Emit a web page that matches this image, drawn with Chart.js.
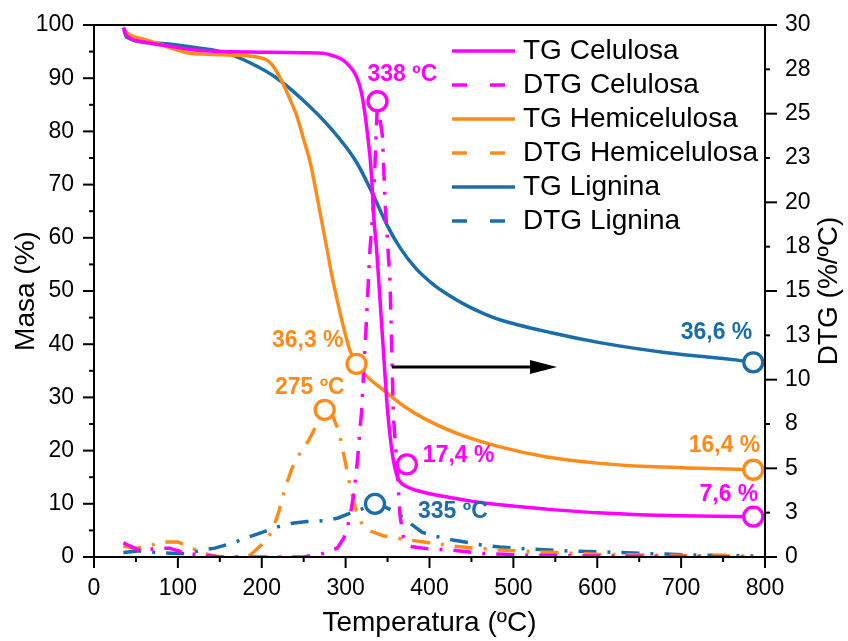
<!DOCTYPE html>
<html>
<head>
<meta charset="utf-8">
<script src="https://cdn.jsdelivr.net/npm/chart.js@4.4.1/dist/chart.umd.min.js"></script>
<style>
  html, body { margin: 0; padding: 0; background: #ffffff; }
  #wrap { width: 848px; height: 641px; }
</style>
</head>
<body>
<div id="wrap"><canvas id="tga" width="848" height="641"></canvas></div>
<script>
// ---- Mass loss (TG, left axis, %) ----
const tempTgCel = [35, 38, 43, 60, 94, 120, 154, 200, 250, 273, 289, 297, 305, 313, 319, 325, 331, 333, 337, 341, 345, 350, 355, 358, 362, 368, 376, 385, 400, 424, 450, 484, 540, 600, 660, 720, 786];
const tgCel     = [99.5, 98.3, 97.5, 96.8, 95.9, 95.3, 95.0, 94.9, 94.8, 94.7, 94.0, 93.4, 92.2, 90.3, 87.2, 80.9, 71.5, 65.2, 57.7, 48.3, 38.9, 27.5, 20.1, 17.3, 14.9, 13.7, 13.0, 12.5, 11.9, 11.2, 10.5, 9.8, 9.0, 8.3, 7.9, 7.7, 7.6];

const tempTgHem = [35, 38, 43, 60, 75, 95, 114, 135, 154, 175, 194, 205, 212, 218, 225, 233, 242, 250, 258, 269, 278, 284, 290, 297, 305, 313, 325, 345, 370, 404, 440, 484, 540, 603, 660, 722, 786];
const tgHem     = [99.5, 98.8, 98.1, 97.3, 96.6, 95.5, 94.7, 94.5, 94.4, 94.3, 94.0, 93.5, 92.6, 91.2, 89.1, 86.3, 82.8, 78.5, 74.0, 65.2, 57.7, 52.6, 48.3, 43.5, 38.9, 36.3, 34.0, 31.4, 28.3, 25.2, 22.8, 20.7, 18.8, 17.6, 17.0, 16.7, 16.4];

const tempTgLig = [35, 39, 75, 114, 154, 186, 218, 249, 281, 313, 333, 350, 365, 384, 404, 424, 445, 464, 484, 544, 603, 683, 762, 786];
const tgLig     = [99.5, 97.7, 96.6, 95.9, 94.9, 92.9, 90.0, 85.9, 80.8, 74.2, 68.0, 62.2, 58.1, 54.2, 51.3, 49.1, 47.2, 45.8, 44.6, 42.2, 40.3, 38.4, 37.1, 36.6];

// ---- Derivative (DTG, right axis, %/ºC) ----
const tempDtgCel = [35, 55, 75, 90, 110, 130, 150, 200, 250, 273, 290, 297, 301, 306, 310, 314, 319, 325, 329, 333, 338, 344, 347, 353, 355, 357, 361, 365, 369, 377, 400, 424, 464, 520, 600, 700, 786];
const dtgCel     = [0.8, 0.35, 0.5, 0.5, 0.2, 0.1, 0.0, 0.0, 0.0, 0.2, 0.5, 1.0, 1.4, 2.5, 3.6, 5.4, 8.2, 13.5, 17.3, 19.8, 25.7, 23.7, 20.0, 15.5, 11.7, 7.9, 5.3, 2.3, 1.1, 0.6, 0.45, 0.4, 0.2, 0.1, 0.05, 0.03, 0.0];

const tempDtgHem = [35, 50, 65, 80, 100, 115, 130, 150, 170, 186, 200, 212, 220, 228, 236, 245, 255, 265, 275, 285, 292, 299, 305, 312, 320, 330, 345, 370, 400, 430, 480, 550, 600, 700, 786];
const dtgHem     = [0.6, 0.5, 0.6, 0.85, 0.85, 0.55, 0.2, 0.0, 0.0, 0.1, 0.7, 1.4, 2.5, 3.9, 5.0, 5.8, 6.5, 7.4, 8.3, 7.9, 7.1, 5.5, 4.1, 2.7, 1.8, 1.45, 1.2, 1.0, 0.8, 0.6, 0.4, 0.25, 0.15, 0.08, 0.05];

const tempDtgLig = [35, 55, 75, 100, 112, 129, 144, 166, 180, 198, 219, 236, 254, 275, 291, 307, 322, 335, 348, 361, 377, 391, 404, 428, 462, 484, 520, 560, 600, 655, 710, 786];
const dtgLig     = [0.25, 0.35, 0.25, 0.2, 0.2, 0.4, 0.5, 0.8, 1.05, 1.35, 1.7, 1.9, 2.0, 2.05, 2.2, 2.5, 2.75, 3.0, 2.8, 2.5, 1.9, 1.4, 1.2, 0.96, 0.68, 0.56, 0.45, 0.35, 0.3, 0.2, 0.12, 0.05];

// ---- Marked points ----
const markCelT = [373, 786];  const markCel = [17.4, 7.6];   // residual mass, %
const markHemT = [313, 786];  const markHem = [36.3, 16.4];
const markLigT = [786];       const markLig = [36.6];
const peakT    = [338, 275, 335];   // DTG peak temperature: celulosa, hemicelulosa, lignina
const peakDtg  = [25.7, 8.3, 3.0];

// ---- Axes ----
const xTicks = [0, 100, 200, 300, 400, 500, 600, 700, 800];
const massTicks = [0, 10, 20, 30, 40, 50, 60, 70, 80, 90, 100];
const dtgTicks = [0, 2.5, 5, 7.5, 10, 12.5, 15, 17.5, 20, 22.5, 25, 27.5, 30];
const dtgTickLabels = ['0', '3', '5', '8', '10', '13', '15', '18', '20', '23', '25', '28', '30'];

const C_CEL = '#FF00FF';
const C_HEM = '#FF8C1A';
const C_LIG = '#1B6DAA';
const FONT = '"Liberation Sans", Arial, Helvetica, sans-serif';
const DASHDOT = [18, 11, 3, 11];

const pts = (xs, ys) => xs.map((x, i) => ({ x: x, y: ys[i] }));
const fmtMass = v => v.toFixed(1).replace('.', ',') + ' %';
const fmtTemp = v => v + ' ºC';

function curve(label, xs, ys, color, axis, dashed) {
  return {
    label: label, data: pts(xs, ys), yAxisID: axis,
    borderColor: color, backgroundColor: color, borderWidth: 3.5,
    borderDash: dashed ? DASHDOT : [], legendDash: dashed ? [15, 23] : [],
    pointRadius: 0, fill: false, order: 2,
    tension: dashed ? 0 : 0.4, cubicInterpolationMode: dashed ? 'default' : 'monotone'
  };
}
function marks(xs, ys, color, axis, texts, place) {
  return {
    label: '', data: pts(xs, ys), yAxisID: axis, showLine: false,
    pointRadius: 9.5, pointBorderWidth: 3.3, pointBorderColor: color,
    pointBackgroundColor: '#ffffff', borderColor: color, order: 0, clip: false,
    markTexts: texts, markPlace: place
  };
}

const datasets = [
  curve('TG Celulosa', tempTgCel, tgCel, C_CEL, 'y', false),
  curve('DTG Celulosa', tempDtgCel, dtgCel, C_CEL, 'y1', true),
  curve('TG Hemicelulosa', tempTgHem, tgHem, C_HEM, 'y', false),
  curve('DTG Hemicelulosa', tempDtgHem, dtgHem, C_HEM, 'y1', true),
  curve('TG Lignina', tempTgLig, tgLig, C_LIG, 'y', false),
  curve('DTG Lignina', tempDtgLig, dtgLig, C_LIG, 'y1', true),
  // value labels: [dx, dy, align] relative to the marker centre
  marks(markCelT, markCel, C_CEL, 'y', markCel.map(fmtMass), [[16, -9, 'left'], [5, -22, 'right']]),
  marks(markHemT, markHem, C_HEM, 'y', markHem.map(fmtMass), [[-13, -23, 'right'], [7, -24, 'right']]),
  marks(markLigT, markLig, C_LIG, 'y', markLig.map(fmtMass), [[-1, -30, 'right']]),
  marks([peakT[0]], [peakDtg[0]], C_CEL, 'y1', [fmtTemp(peakT[0])], [[-10, -27, 'left']]),
  marks([peakT[1]], [peakDtg[1]], C_HEM, 'y1', [fmtTemp(peakT[1])], [[20, -22, 'right']]),
  marks([peakT[2]], [peakDtg[2]], C_LIG, 'y1', [fmtTemp(peakT[2])], [[43, 8, 'left']])
];

// arrow pointing from the DTG curves towards the right-hand axis
const arrowFrom = { x: 355, y: 35.7 };
const arrowTo = { x: 552, y: 35.7 };

function line(ctx, x1, y1, x2, y2) {
  ctx.beginPath(); ctx.moveTo(x1, y1); ctx.lineTo(x2, y2); ctx.stroke();
}

const framePlugin = {
  id: 'frameAndTicks',
  afterDraw(chart) {
    const { ctx, chartArea: a } = chart;
    const { x, y, y1 } = chart.scales;
    ctx.save();
    ctx.strokeStyle = '#000'; ctx.lineWidth = 2; ctx.lineCap = 'butt';
    ctx.strokeRect(a.left, a.top, a.right - a.left, a.bottom - a.top);
    // bottom axis: major at labelled ticks, minor halfway
    xTicks.forEach((v, i) => {
      const p = x.getPixelForValue(v);
      line(ctx, p, a.bottom, p, a.bottom + 11);
      if (i < xTicks.length - 1) {
        const m = x.getPixelForValue((v + xTicks[i + 1]) / 2);
        line(ctx, m, a.bottom, m, a.bottom + 5);
      }
    });
    massTicks.forEach((v, i) => {
      const p = y.getPixelForValue(v);
      line(ctx, a.left, p, a.left - 11, p);
      if (i < massTicks.length - 1) {
        const m = y.getPixelForValue((v + massTicks[i + 1]) / 2);
        line(ctx, a.left, m, a.left - 5, m);
      }
    });
    dtgTicks.forEach(v => {
      const p = y1.getPixelForValue(v);
      line(ctx, a.right, p, a.right + (v % 5 === 0 ? 12 : 5), p);
    });
    // right axis title, reading bottom to top
    ctx.fillStyle = '#000';
    ctx.font = '28px ' + FONT;
    ctx.textAlign = 'center'; ctx.textBaseline = 'middle';
    ctx.translate(829, (a.top + a.bottom) / 2);
    ctx.rotate(-Math.PI / 2);
    ctx.fillText('DTG (%/ºC)', 0, 0);
    ctx.restore();
  }
};

const annotatePlugin = {
  id: 'annotations',
  afterDatasetsDraw(chart) {
    const { ctx } = chart;
    const { x, y } = chart.scales;
    ctx.save();
    // arrow
    const x1 = x.getPixelForValue(arrowFrom.x), y0 = y.getPixelForValue(arrowFrom.y);
    const x2 = x.getPixelForValue(arrowTo.x);
    ctx.strokeStyle = '#000'; ctx.fillStyle = '#000'; ctx.lineWidth = 3;
    line(ctx, x1, y0, x2 - 20, y0);
    ctx.beginPath();
    ctx.moveTo(x2, y0); ctx.lineTo(x2 - 27, y0 - 7); ctx.lineTo(x2 - 27, y0 + 7); ctx.closePath(); ctx.fill();
    // marker value labels
    ctx.font = 'bold 23px ' + FONT;
    ctx.textBaseline = 'middle';
    chart.data.datasets.forEach((ds, di) => {
      if (!ds.markTexts) return;
      const meta = chart.getDatasetMeta(di);
      meta.data.forEach((el, i) => {
        const pl = ds.markPlace[i];
        ctx.fillStyle = ds.pointBorderColor;
        ctx.textAlign = pl[2];
        ctx.fillText(ds.markTexts[i], el.x + pl[0], el.y + pl[1]);
      });
    });
    ctx.restore();
  }
};

const legendPlugin = {
  id: 'insetLegend',
  afterDraw(chart) {
    const { ctx } = chart;
    const items = chart.data.datasets.filter(d => d.legendDash);
    ctx.save();
    ctx.font = '28px ' + FONT;
    ctx.textBaseline = 'middle'; ctx.textAlign = 'left';
    items.forEach((ds, i) => {
      const yy = 51 + i * 34;
      ctx.strokeStyle = ds.borderColor; ctx.lineWidth = 3.5;
      ctx.setLineDash(ds.legendDash);
      line(ctx, 452, yy, 515, yy);
      ctx.setLineDash([]);
      ctx.fillStyle = '#000';
      ctx.fillText(ds.label, 523, yy);
    });
    ctx.restore();
  }
};

// fixed axis boxes so the plot area sits at 94..765 x 25..557
function fixVertical(width) {
  return s => { s.width = width; s.paddingTop = 0; s.paddingBottom = 0; };
}
function fixHorizontal(height) {
  return s => { s.height = height; s.paddingLeft = 0; s.paddingRight = 0; };
}

const tickFont = { family: FONT, size: 23 };
const titleFont = { family: FONT, size: 28 };

new Chart(document.getElementById('tga'), {
  type: 'line',
  data: { datasets: datasets },
  options: {
    responsive: false,
    animation: false,
    events: [],
    layout: { padding: { top: 25, left: 0, right: 0, bottom: 0 } },
    plugins: { legend: { display: false }, tooltip: { enabled: false }, title: { display: false } },
    scales: {
      x: {
        type: 'linear', min: 0, max: 800,
        afterBuildTicks: s => { s.ticks = xTicks.map(v => ({ value: v })); },
        afterFit: fixHorizontal(84),
        grid: { display: false, drawTicks: false }, border: { display: false },
        ticks: { color: '#000', font: tickFont, padding: 18, maxRotation: 0, autoSkip: false },
        title: { display: true, text: 'Temperatura (ºC)', color: '#000', font: titleFont, padding: { top: 0, bottom: 1 } }
      },
      y: {
        type: 'linear', position: 'left', min: 0, max: 100,
        afterBuildTicks: s => { s.ticks = massTicks.map(v => ({ value: v })); },
        afterFit: fixVertical(94),
        grid: { display: false, drawTicks: false }, border: { display: false },
        ticks: { color: '#000', font: tickFont, padding: 20, autoSkip: false },
        title: { display: true, text: 'Masa (%)', color: '#000', font: titleFont, padding: { top: 9, bottom: 0 } }
      },
      y1: {
        type: 'linear', position: 'right', min: 0, max: 30,
        afterBuildTicks: s => { s.ticks = dtgTicks.map(v => ({ value: v })); },
        afterFit: fixVertical(83),
        grid: { display: false, drawTicks: false }, border: { display: false },
        ticks: { color: '#000', font: tickFont, padding: 20, autoSkip: false, callback: (v, i) => dtgTickLabels[i] }
      }
    }
  },
  plugins: [framePlugin, annotatePlugin, legendPlugin]
});
</script>
</body>
</html>
